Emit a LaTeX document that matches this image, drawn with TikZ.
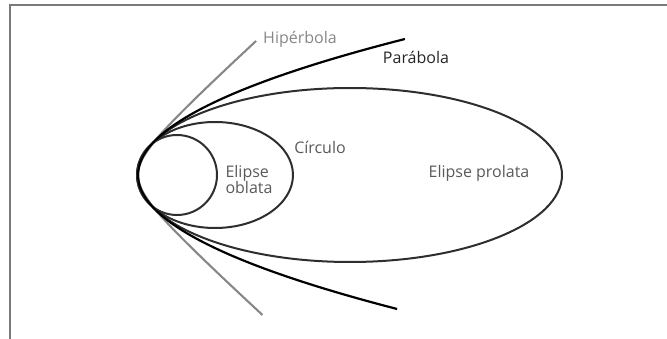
\documentclass[tikz,border=0pt]{standalone}
\usepackage{fontspec}
\setmainfont{Open Sans}
\usepackage{tikz}
\usetikzlibrary{positioning}

\definecolor{framegray}{HTML}{7A7A7A}
\definecolor{ellgray}{HTML}{2E2E2E}
\definecolor{hypgray}{HTML}{878787}
\definecolor{labelgray}{HTML}{5A5A5A}

\begin{document}
\begin{tikzpicture}[x=1pt, y=-1pt,
  orbit/.style={line width=2pt, draw=ellgray},
  lbl/.style={font=\fontsize{16}{16}\selectfont, text=labelgray, inner sep=0pt}]
\useasboundingbox (0,0) rectangle (667,339);
% frame (only top and left edges show)
\draw[framegray, line width=1.6pt] (10,339) -- (10,5) -- (667,5);

% closed orbits, all through the common vertex
\draw[orbit] (350,175) ellipse [x radius=212, y radius=87];
\draw[orbit] (215,175) ellipse [x radius=78, y radius=53];
\draw[orbit] (177,175) ellipse [x radius=40, y radius=40];

% open orbits
\draw[hypgray, line width=2.1pt]
  plot[domain=-134:140, samples=80, smooth] ({105+33*sqrt(1+(\x/30)^2)}, {175+\x});
\draw[black, line width=2.2pt]
  plot[domain=-136:134, samples=80, smooth] ({138+1.443*(\x/10)*(\x/10)}, {175+\x});

% labels
\node[lbl, text=hypgray] (hyp) at (300,39) {Hipérbola};
\node[lbl, text=black!85] (par) at (416,57) {Parábola};
\node[lbl] (circ) at (320,147) {Círculo};
\node[lbl, align=left] (obl) at (249,180) {Elipse\\oblata};
\node[lbl] (pro) at (479,173) {Elipse prolata};
\end{tikzpicture}
\end{document}
